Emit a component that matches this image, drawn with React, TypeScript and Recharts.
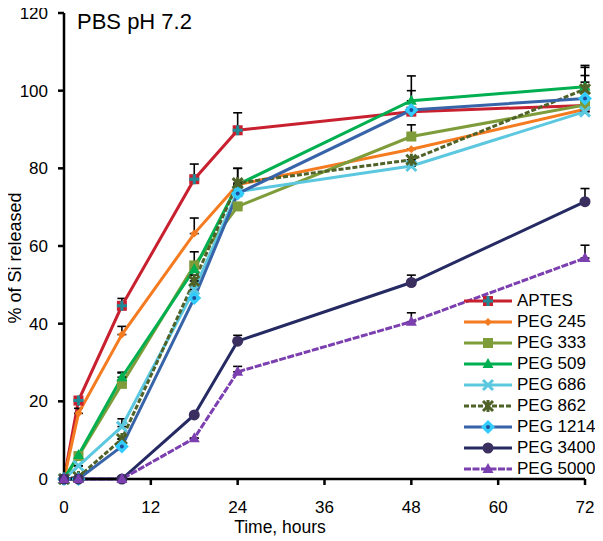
import React from "react";
import { LineChart, Line, XAxis, YAxis, ErrorBar, Legend } from "recharts";

// sampling times (hours)
const hours = [0, 2, 8, 18, 24, 48, 72];

// % of Si released, one array per coating
const aptes = [0, 20.2, 44.6, 77.2, 89.8, 94.6, 96.2];
const peg245 = [0, 16.9, 37.2, 63.2, 75.8, 84.9, 95.2];
const peg333 = [0, 5.9, 24.5, 55, 70.2, 88.2, 96.3];
const peg509 = [0, 6.2, 26.2, 54, 75.8, 97.4, 101];
const peg686 = [0, 3.4, 13.5, 48.8, 74, 80.6, 94.6];
const peg862 = [0, 0.5, 10.3, 51, 76.2, 82.2, 100.4];
const peg1214 = [0, 0, 8.4, 46.6, 73.5, 95, 98];
const peg3400 = [0, 0, 0, 16.5, 35.5, 50.6, 71.4];
const peg5000 = [0, 0, 0, 10.5, 27.6, 40.5, 56.9];

// upper error (only the top half shows in the original)
const aptesErr = [0, 0, 1.9, 3.9, 4.5, 0, 0];
const peg245Err = [0, 1.3, 2.1, 4, 4.2, 0, 0];
const peg333Err = [0, 0, 2.8, 3.5, 0, 3, 7.6];
const peg509Err = [0, 0, 1.3, 1.8, 0, 6.4, 5.5];
const peg686Err = [0, 0, 2, 0, 0, 0, 0];
const peg862Err = [0, 0, 0, 1.5, 3.8, 0, 5.6];
const peg1214Err = [0, 0, 0, 0, 0, 5, 4.2];
const peg3400Err = [0, 0, 0, 0, 1.5, 1.9, 3.4];
const peg5000Err = [0, 0, 0, 0, 1.4, 2.3, 3.3];

const xTicks = [0, 12, 24, 36, 48, 60, 72];
const yTicks = [0, 20, 40, 60, 80, 100, 120];

const FONT = "'Liberation Sans', Arial, Helvetica, sans-serif";

type Series = {
  name: string;
  values: number[];
  errors: number[];
  color: string;
  marker: string;
  markerColor: string;
  accent?: string;
  dash?: string;
};

const series: Series[] = [
  { name: "APTES", values: aptes, errors: aptesErr, color: "#C8202F", marker: "squareCross", markerColor: "#C8202F", accent: "#1E8C96" },
  { name: "PEG 245", values: peg245, errors: peg245Err, color: "#F47B20", marker: "diamondSmall", markerColor: "#F47B20" },
  { name: "PEG 333", values: peg333, errors: peg333Err, color: "#7F9C3A", marker: "square", markerColor: "#7F9C3A" },
  { name: "PEG 509", values: peg509, errors: peg509Err, color: "#00B050", marker: "triangle", markerColor: "#00B050" },
  { name: "PEG 686", values: peg686, errors: peg686Err, color: "#5BC8E0", marker: "x", markerColor: "#5BC8E0" },
  { name: "PEG 862", values: peg862, errors: peg862Err, color: "#4F6228", marker: "star", markerColor: "#4F6228", dash: "5 2" },
  { name: "PEG 1214", values: peg1214, errors: peg1214Err, color: "#3763A8", marker: "diamond", markerColor: "#33CCFF", accent: "#1F4E9A" },
  { name: "PEG 3400", values: peg3400, errors: peg3400Err, color: "#262A63", marker: "circle", markerColor: "#3A2F5E" },
  { name: "PEG 5000", values: peg5000, errors: peg5000Err, color: "#7B3FB0", marker: "triangle", markerColor: "#7B3FB0", dash: "7 1.5" },
];

const data = hours.map((t, i) => {
  const row: Record<string, any> = { t };
  series.forEach((s) => {
    row[s.name] = s.values[i];
    row[s.name + " err"] = [0, s.errors[i]];
  });
  return row;
});

function Marker({ s, cx, cy }: { s: Series; cx: number; cy: number }) {
  const c = s.markerColor;
  switch (s.marker) {
    case "squareCross":
      return (
        <g>
          <rect x={cx - 5} y={cy - 5} width={10} height={10} fill={c} />
          <path d={`M${cx - 5},${cy}H${cx + 5}M${cx},${cy - 5}V${cy + 5}`} stroke={s.accent} strokeWidth={3} />
        </g>
      );
    case "diamondSmall":
      return <path d={`M${cx},${cy - 4}L${cx + 4},${cy}L${cx},${cy + 4}L${cx - 4},${cy}Z`} fill={c} />;
    case "square":
      return <rect x={cx - 5} y={cy - 5} width={10} height={10} fill={c} />;
    case "triangle":
      return <path d={`M${cx},${cy - 6}L${cx + 5.5},${cy + 4}L${cx - 5.5},${cy + 4}Z`} fill={c} />;
    case "x":
      return <path d={`M${cx - 5},${cy - 5}L${cx + 5},${cy + 5}M${cx + 5},${cy - 5}L${cx - 5},${cy + 5}`} stroke={c} strokeWidth={3} />;
    case "star":
      return (
        <path
          d={`M${cx - 5},${cy - 5}L${cx + 5},${cy + 5}M${cx + 5},${cy - 5}L${cx - 5},${cy + 5}M${cx},${cy - 6}V${cy + 6}`}
          stroke={c}
          strokeWidth={3}
        />
      );
    case "diamond":
      return (
        <g>
          <path d={`M${cx},${cy - 7}L${cx + 7},${cy}L${cx},${cy + 7}L${cx - 7},${cy}Z`} fill={c} />
          <circle cx={cx} cy={cy} r={2} fill={s.accent} />
        </g>
      );
    case "circle":
      return <circle cx={cx} cy={cy} r={5.5} fill={c} />;
    default:
      return null;
  }
}

// keep the legend in series order (recharts sorts by name otherwise)
const renderLegend = (props: any) => {
  const payload = [...(props.payload || [])].sort(
    (a: any, b: any) =>
      series.findIndex((s) => s.name === a.value) - series.findIndex((s) => s.name === b.value)
  );
  return (
    <div style={{ fontFamily: FONT, fontSize: 17, color: "#000" }}>
      {payload.map((entry: any) => {
        const s = series.find((x) => x.name === entry.value)!;
        return (
          <div key={s.name} style={{ display: "flex", alignItems: "center", height: 20.95 }}>
            <svg width={53} height={20} style={{ display: "block" }}>
              <line x1={0} x2={48} y1={10} y2={10} stroke={s.color} strokeWidth={3} strokeDasharray={s.dash} />
              <Marker s={s} cx={24} cy={10} />
            </svg>
            <span style={{ lineHeight: "20px" }}>{s.name}</span>
          </div>
        );
      })}
    </div>
  );
};

const YTitle = () => (
  <text
    x={21}
    y={258}
    transform="rotate(-90 21 258)"
    textAnchor="middle"
    fontFamily={FONT}
    fontSize={18}
    fill="#000"
  >
    % of Si released
  </text>
);

const XTitle = () => (
  <text x={280} y={533} textAnchor="middle" fontFamily={FONT} fontSize={17.5} fill="#000">
    Time, hours
  </text>
);

export default function App() {
  return (
    <div style={{ position: "relative", width: 603, height: 541, margin: "-8px 0 0 -8px", background: "#fff" }}>
      <LineChart width={603} height={541} data={data} margin={{ top: 13, right: 18, left: 0, bottom: 0 }}>
        <XAxis
          dataKey="t"
          type="number"
          domain={[0, 72]}
          ticks={xTicks}
          height={62}
          axisLine={{ stroke: "#000", strokeWidth: 2.5 }}
          tickLine={{ stroke: "#000", strokeWidth: 2.5 }}
          tickSize={6}
          tickMargin={16}
          tick={{ fill: "#000", fontSize: 17, fontFamily: FONT }}
          label={<XTitle />}
        />
        <YAxis
          type="number"
          domain={[0, 120]}
          ticks={yTicks}
          width={64}
          axisLine={{ stroke: "#000", strokeWidth: 2.5 }}
          tickLine={{ stroke: "#000", strokeWidth: 2.5 }}
          tickSize={6}
          tickMargin={10}
          tick={{ fill: "#000", fontSize: 17, fontFamily: FONT }}
          label={<YTitle />}
        />
        <Legend
          layout="horizontal"
          verticalAlign="middle"
          align="center"
          content={renderLegend}
          wrapperStyle={{ left: 464, top: 291, width: 140 }}
        />
        {series.map((s) => (
          <Line
            key={s.name}
            name={s.name}
            dataKey={s.name}
            stroke={s.color}
            strokeWidth={3}
            strokeDasharray={s.dash}
            isAnimationActive={false}
            dot={(p: any) => <Marker key={`${s.name}-${p.index}`} s={s} cx={p.cx} cy={p.cy} />}
            activeDot={false}
          >
            <ErrorBar dataKey={s.name + " err"} direction="y" width={4.5} stroke="#000" strokeWidth={1.6} />
          </Line>
        ))}
      </LineChart>
      <div
        style={{
          position: "absolute",
          left: 77,
          top: 9,
          fontFamily: FONT,
          fontSize: 22,
          color: "#000",
        }}
      >
        PBS pH 7.2
      </div>
    </div>
  );
}
